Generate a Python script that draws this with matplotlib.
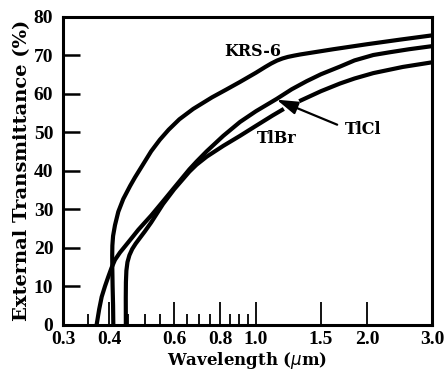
import matplotlib
matplotlib.use("Agg")
import matplotlib.pyplot as plt
from matplotlib.ticker import FixedLocator, FixedFormatter, NullFormatter

# ---- data ----
krs6_wl = [0.4106, 0.4100, 0.4088, 0.4080, 0.4078, 0.4082, 0.4100, 0.4149, 0.4236, 0.4369,
           0.456, 0.47, 0.49, 0.52, 0.549, 0.58, 0.62, 0.676, 0.76, 0.83,
           0.905, 1.0, 1.06, 1.10, 1.14, 1.18, 1.22, 1.27, 1.32, 1.62, 2.0, 2.46, 3.0]
krs6_t = [0.0, 5.0, 10.0, 15.0, 18.0, 20.5, 23.0, 25.8, 29.3, 32.6,
          36.0, 38.2, 41.0, 45.0, 48.0, 50.6, 53.3, 56.0, 59.0, 61.0,
          63.0, 65.4, 66.9, 67.8, 68.55, 69.1, 69.5, 69.85, 70.15, 71.5, 72.8, 74.0, 75.1]

tlcl_wl = [0.3701, 0.3760, 0.3819, 0.3900, 0.3979, 0.4060, 0.4149, 0.4280, 0.4416, 0.4600,
           0.4799, 0.50, 0.52, 0.56, 0.60, 0.66, 0.69, 0.7355, 0.8155, 0.905,
           1.0, 1.138, 1.25, 1.372, 1.5, 1.69, 1.85, 2.08, 2.3, 2.6, 3.0]
tlcl_t = [0.0, 4.0, 7.2, 10.0, 12.4, 14.7, 16.8, 18.7, 20.3, 22.4,
          24.6, 26.5, 28.3, 32.0, 35.5, 40.3, 42.3, 45.0, 49.0, 52.6,
          55.4, 58.6, 61.1, 63.2, 65.0, 67.0, 68.6, 70.0, 70.7, 71.5, 72.3]

tlbr_wl_a = [0.4440, 0.4438, 0.4442, 0.4455, 0.4485, 0.4540, 0.4620, 0.4720, 0.4840, 0.50,
             0.52, 0.56, 0.60, 0.66, 0.69, 0.7355, 0.8155, 0.905, 1.0, 1.11, 1.19]
tlbr_t_a = [0.0, 7.0, 11.0, 14.0, 16.2, 18.0, 19.6, 21.0, 22.4, 24.2,
            26.5, 31.3, 35.1, 39.7, 41.5, 43.6, 46.4, 49.0, 51.6, 54.3, 56.0]
tlbr_wl_b = [1.31, 1.5, 1.69, 1.85, 2.08, 2.5, 3.0]
tlbr_t_b = [58.0, 60.6, 62.6, 63.9, 65.3, 66.9, 68.1]

xmajor = [0.3, 0.4, 0.6, 0.8, 1.0, 1.5, 2.0, 3.0]
xmajor_labels = ["0.3", "0.4", "0.6", "0.8", "1.0", "1.5", "2.0", "3.0"]
xminor = [0.35, 0.45, 0.5, 0.55, 0.65, 0.7, 0.75, 0.85, 0.9, 0.95]
yticks = [0, 10, 20, 30, 40, 50, 60, 70, 80]

# ---- figure ----
fig = plt.figure(figsize=(4.46, 3.71), dpi=100)
ax = fig.add_axes([0.1413, 0.1253, 0.8273, 0.8302])

lw = 3.0
for xs, ys in [(krs6_wl, krs6_t), (tlcl_wl, tlcl_t), (tlbr_wl_a, tlbr_t_a), (tlbr_wl_b, tlbr_t_b)]:
    ax.plot(xs, ys, color="black", lw=lw, solid_capstyle="butt", solid_joinstyle="round")

ax.set_xscale("log")
ax.set_xlim(0.3, 3.0)
ax.set_ylim(0, 80)

ax.xaxis.set_major_locator(FixedLocator(xmajor))
ax.xaxis.set_major_formatter(FixedFormatter(xmajor_labels))
ax.xaxis.set_minor_locator(FixedLocator(xminor))
ax.xaxis.set_minor_formatter(NullFormatter())
ax.set_yticks(yticks)
ax.set_yticklabels([str(v) for v in yticks])
for lab in ax.get_xticklabels() + ax.get_yticklabels():
    lab.set_fontfamily("Liberation Serif")
    lab.set_fontweight("bold")
    lab.set_fontsize(14)

ax.tick_params(axis="x", which="major", direction="in", length=16.5, width=1.3, pad=5)
ax.tick_params(axis="x", which="minor", direction="in", length=8, width=1.3)
ax.tick_params(axis="y", which="major", direction="in", length=12.5, width=1.8, pad=7)

for sp in ax.spines.values():
    sp.set_linewidth(2.2)

ax.set_xlabel("Wavelength ($\\mu$m)", family="DejaVu Serif", weight="bold", size=12, labelpad=1)
ax.set_ylabel("External Transmittance (%)", family="DejaVu Serif", weight="bold", size=14, labelpad=2)

txtfont = dict(family="DejaVu Serif", weight="bold", size=11.5)
ax.text(0.981, 71.0, "KRS-6", ha="center", va="center", fontdict=txtfont)
ax.text(1.953, 50.7, "TlCl", ha="center", va="center", fontdict=txtfont)
ax.text(1.138, 48.3, "TlBr", ha="center", va="center", fontdict=txtfont)
ax.annotate("", xy=(1.138, 58.4), xytext=(1.66, 51.9),
            arrowprops=dict(arrowstyle="-|>,head_length=0.8,head_width=0.25",
                            mutation_scale=16, lw=1.6, color="black",
                            shrinkA=0, shrinkB=0))

fig.savefig("out.png", dpi=100)
